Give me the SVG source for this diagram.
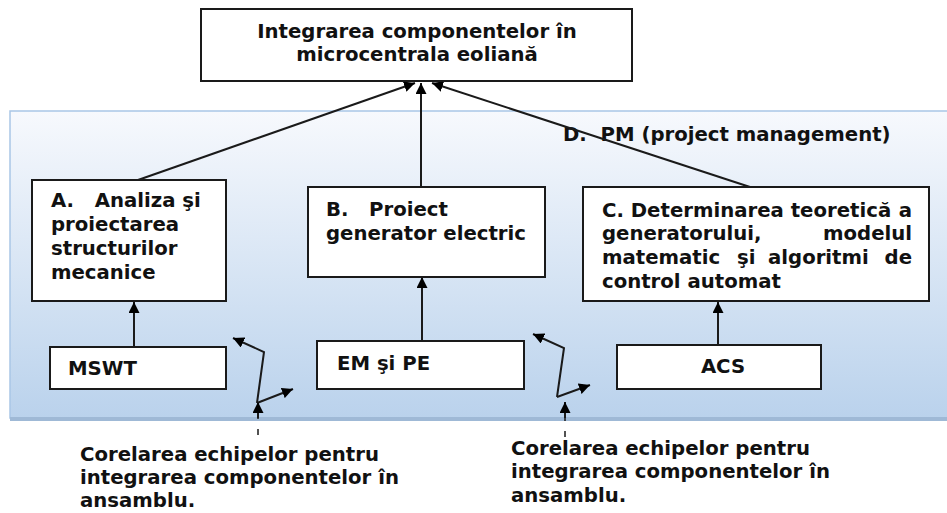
<svg xmlns="http://www.w3.org/2000/svg" width="947" height="513" viewBox="0 0 947 513">
<defs>
<linearGradient id="panelGrad" x1="0" y1="0" x2="0" y2="1">
<stop offset="0" stop-color="#f7f9fd"/>
<stop offset="1" stop-color="#bad2ec"/>
</linearGradient>
<marker id="ah" viewBox="0 0 10 10" refX="10" refY="5" markerWidth="11" markerHeight="11" markerUnits="userSpaceOnUse" orient="auto">
<path d="M0,0 L10,5 L0,10 z" fill="#000"/>
</marker>
<style>
.box{fill:#fff;stroke:#1a1a1a;stroke-width:2}
.t{font-family:"DejaVu Sans",Verdana,sans-serif;font-weight:bold;font-size:19.7px;fill:#111;white-space:pre}
.c{stroke:#1a1a1a;stroke-width:2;fill:none;marker-end:url(#ah)}
.d{stroke:#1a1a1a;stroke-width:1.5;stroke-dasharray:6 10;fill:none}
</style>
</defs>
<g id="panel">
<rect x="10" y="111" width="945" height="307" fill="url(#panelGrad)" stroke="#a9c6e6" stroke-width="1.5"/>
<rect x="10" y="417" width="945" height="4" fill="#9fb9d6"/>
<text class="t" x="563" y="141" xml:space="preserve">D.  PM (project management)</text>
</g>
<g id="connectors">
<line class="c" x1="138" y1="180" x2="415" y2="83"/>
<line class="c" x1="421" y1="188" x2="421" y2="83"/>
<line class="c" x1="750" y1="187" x2="432" y2="83"/>
<line class="c" x1="134" y1="347" x2="134" y2="302"/>
<line class="c" x1="422" y1="341" x2="422" y2="277"/>
<line class="c" x1="718" y1="345" x2="718" y2="302"/>
<polyline class="c" points="257,403 264,352 233,338"/>
<line class="c" x1="257" y1="403" x2="293" y2="389"/>
<line class="d" x1="258" y1="435" x2="258" y2="415"/>
<line class="c" x1="258" y1="418" x2="258" y2="402"/>
<polyline class="c" points="557,397 564,348 533,334"/>
<line class="c" x1="557" y1="397" x2="590" y2="385"/>
<line class="d" x1="565" y1="437" x2="565" y2="415"/>
<line class="c" x1="565" y1="418" x2="565" y2="402"/>
</g>
<g id="top">
<rect class="box" x="201" y="9" width="431" height="72"/>
<text class="t" x="417" y="38" text-anchor="middle">Integrarea componentelor în</text>
<text class="t" x="417" y="61" text-anchor="middle">microcentrala eoliană</text>
</g>
<g id="nodeA">
<rect class="box" x="32" y="180" width="194" height="121"/>
<text class="t" x="51" y="207" xml:space="preserve">A.   Analiza şi</text>
<text class="t" x="51" y="231">proiectarea</text>
<text class="t" x="51" y="255">structurilor</text>
<text class="t" x="51" y="279">mecanice</text>
</g>
<g id="nodeB">
<rect class="box" x="308" y="187" width="237" height="90"/>
<text class="t" x="326" y="216" xml:space="preserve">B.   Proiect</text>
<text class="t" x="326" y="240">generator electric</text>
</g>
<g id="nodeC">
<rect class="box" x="583" y="187" width="346" height="114"/>
<text class="t" x="602" y="217">C. Determinarea teoretică</text>
<text class="t" x="912" y="217" text-anchor="end">a</text>
<text class="t" x="602" y="240">generatorului,</text>
<text class="t" x="912" y="240" text-anchor="end">modelul</text>
<text class="t" x="602" y="264">matematic</text>
<text class="t" x="737" y="264">şi</text>
<text class="t" x="768" y="264">algoritmi</text>
<text class="t" x="912" y="264" text-anchor="end">de</text>
<text class="t" x="602" y="288">control automat</text>
</g>
<g id="nodeMSWT">
<rect class="box" x="50" y="347" width="176" height="42"/>
<text class="t" x="68" y="375">MSWT</text>
</g>
<g id="nodeEM">
<rect class="box" x="317" y="341" width="207" height="48"/>
<text class="t" x="337" y="370">EM şi PE</text>
</g>
<g id="nodeACS">
<rect class="box" x="617" y="345" width="204" height="44"/>
<text class="t" x="723" y="373" text-anchor="middle">ACS</text>
</g>
<g id="labelLeft">
<text class="t" x="80" y="461">Corelarea echipelor pentru</text>
<text class="t" x="80" y="484">integrarea componentelor în</text>
<text class="t" x="80" y="507">ansamblu.</text>
</g>
<g id="labelRight">
<text class="t" x="511" y="455">Corelarea echipelor pentru</text>
<text class="t" x="511" y="478">integrarea componentelor în</text>
<text class="t" x="511" y="502">ansamblu.</text>
</g>
</svg>
